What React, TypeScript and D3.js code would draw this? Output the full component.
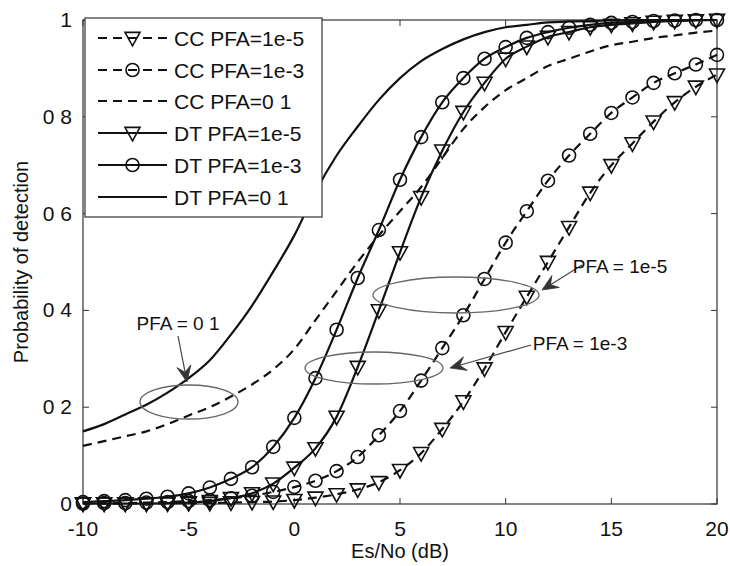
import React from "react";
import * as d3 from "d3";

const snr = d3.range(-10, 21);
const ccPfa1e5 = [0.001, 0.001, 0.001, 0.001, 0.001, 0.002, 0.002, 0.003, 0.004, 0.005, 0.008, 0.013, 0.02, 0.03, 0.045, 0.07, 0.105, 0.155, 0.212, 0.28, 0.355, 0.428, 0.5, 0.572, 0.643, 0.7, 0.745, 0.79, 0.83, 0.862, 0.887];
const ccPfa1e3 = [0.001, 0.002, 0.002, 0.003, 0.004, 0.006, 0.008, 0.012, 0.017, 0.025, 0.035, 0.048, 0.068, 0.097, 0.142, 0.192, 0.255, 0.322, 0.39, 0.465, 0.54, 0.605, 0.668, 0.72, 0.765, 0.808, 0.84, 0.87, 0.89, 0.908, 0.928];
const ccPfa01 = [0.12, 0.13, 0.14, 0.15, 0.165, 0.183, 0.2, 0.222, 0.247, 0.278, 0.32, 0.38, 0.44, 0.5, 0.555, 0.605, 0.655, 0.715, 0.775, 0.82, 0.855, 0.88, 0.905, 0.92, 0.935, 0.948, 0.955, 0.963, 0.968, 0.974, 0.978];
const dtPfa1e5 = [0.001, 0.001, 0.001, 0.001, 0.002, 0.003, 0.006, 0.012, 0.022, 0.042, 0.075, 0.115, 0.18, 0.283, 0.4, 0.52, 0.634, 0.73, 0.81, 0.87, 0.92, 0.945, 0.965, 0.975, 0.985, 0.99, 0.993, 0.996, 0.998, 0.999, 1.0];
const dtPfa1e3 = [0.004, 0.006, 0.008, 0.011, 0.015, 0.022, 0.034, 0.052, 0.076, 0.118, 0.178, 0.26, 0.36, 0.467, 0.566, 0.67, 0.758, 0.83, 0.88, 0.92, 0.944, 0.963, 0.975, 0.984, 0.99, 0.994, 0.996, 0.998, 0.999, 1.0, 1.0];
const dtPfa01 = [0.15, 0.165, 0.185, 0.205, 0.23, 0.26, 0.297, 0.35, 0.41, 0.48, 0.555, 0.645, 0.72, 0.78, 0.835, 0.88, 0.915, 0.94, 0.96, 0.975, 0.985, 0.99, 0.995, 0.997, 0.998, 0.999, 1.0, 1.0, 1.0, 1.0, 1.0];

const seriesNames = ["CC PFA=1e-5", "CC PFA=1e-3", "CC PFA=0 1", "DT PFA=1e-5", "DT PFA=1e-3", "DT PFA=0 1"];
const seriesValues = [ccPfa1e5, ccPfa1e3, ccPfa01, dtPfa1e5, dtPfa1e3, dtPfa01];
const seriesDashed = [true, true, true, false, false, false];
const seriesMarker = ["tri", "circ", "none", "tri", "circ", "none"];

const xTicks = [-10, -5, 0, 5, 10, 15, 20];
const yTicks = [0, 0.2, 0.4, 0.6, 0.8, 1];
const yTickLabels = ["0", "0 2", "0 4", "0 6", "0 8", "1"];

const annotations = [
  { text: "PFA = 0 1", tx: 178, ty: 330, x1: 178, y1: 336, x2: 187, y2: 382 },
  { text: "PFA = 1e-5", tx: 620, ty: 273, x1: 582, y1: 265, x2: 542, y2: 290 },
  { text: "PFA = 1e-3", tx: 580, ty: 350, x1: 531, y1: 345, x2: 450, y2: 368 },
];
const ellipses = [
  { cx: 189, cy: 402, rx: 49, ry: 17 },
  { cx: 374, cy: 368, rx: 69, ry: 16 },
  { cx: 456, cy: 295, rx: 83, ry: 18 },
];

const FONT = "'Liberation Sans', Arial, sans-serif";

function Marker({ type, x, y }: { type: string; x: number; y: number }) {
  if (type === "circ") {
    return <circle cx={x} cy={y} r={6.5} fill="none" stroke="#111" strokeWidth={1.6} />;
  }
  if (type === "tri") {
    const s = 7.5;
    const pts = `${x - s},${y - s * 0.75} ${x + s},${y - s * 0.75} ${x},${y + s * 1.05}`;
    return <polygon points={pts} fill="none" stroke="#111" strokeWidth={1.6} strokeLinejoin="miter" />;
  }
  return null;
}

function Arrow({ x1, y1, x2, y2 }: { x1: number; y1: number; x2: number; y2: number }) {
  const dx = x2 - x1, dy = y2 - y1;
  const L = Math.hypot(dx, dy);
  const ux = dx / L, uy = dy / L;
  const nx = -uy, ny = ux;
  const hl = 16, hw = 7, inner = 10;
  const p = [
    [x2, y2],
    [x2 - ux * hl + nx * hw, y2 - uy * hl + ny * hw],
    [x2 - ux * inner, y2 - uy * inner],
    [x2 - ux * hl - nx * hw, y2 - uy * hl - ny * hw],
  ];
  return (
    <g>
      <line x1={x1} y1={y1} x2={x2 - ux * inner} y2={y2 - uy * inner} stroke="#444" strokeWidth={1.2} />
      <polygon points={p.map((q) => q.join(",")).join(" ")} fill="#333" stroke="#333" strokeWidth={0.8} />
    </g>
  );
}

export default function App() {
  const width = 730, height = 566;
  const left = 83, right = 717, top = 20, bottom = 504;
  const x = d3.scaleLinear().domain([-10, 20]).range([left, right]);
  const y = d3.scaleLinear().domain([0, 1]).range([bottom, top]);
  const line = d3
    .line<number>()
    .x((_, i) => x(snr[i]))
    .y((v) => y(v))
    .curve(d3.curveMonotoneX);

  const legendX1 = 98, legendX2 = 167;
  const legendYs = [38, 70, 101, 133, 165, 197];

  return (
    <svg width={width} height={height} style={{ position: "absolute", left: 0, top: 0, background: "#fff" }} fontFamily={FONT}>
      <rect x={0} y={0} width={width} height={height} fill="#fff" />
      <defs>
        <clipPath id="plotclip">
          <rect x={left - 10} y={top - 10} width={right - left + 20} height={bottom - top + 20} />
        </clipPath>
      </defs>

      {/* axes box */}
      <rect x={left} y={top} width={right - left} height={bottom - top} fill="none" stroke="#333" strokeWidth={1.2} />
      {xTicks.map((t) => (
        <g key={"xt" + t}>
          <line x1={x(t)} x2={x(t)} y1={bottom} y2={bottom - 6} stroke="#333" strokeWidth={1} />
          <line x1={x(t)} x2={x(t)} y1={top} y2={top + 6} stroke="#333" strokeWidth={1} />
          <text x={x(t)} y={536} textAnchor="middle" fontSize={21} fill="#111">
            {String(t).replace("-", "-")}
          </text>
        </g>
      ))}
      {yTicks.map((t, i) => (
        <g key={"yt" + t}>
          <line x1={left} x2={left + 6} y1={y(t)} y2={y(t)} stroke="#333" strokeWidth={1} />
          <line x1={right} x2={right - 6} y1={y(t)} y2={y(t)} stroke="#333" strokeWidth={1} />
          <text x={72} y={y(t) + 7} textAnchor="end" fontSize={21} fill="#111">
            {yTickLabels[i]}
          </text>
        </g>
      ))}
      <text x={(left + right) / 2} y={558} textAnchor="middle" fontSize={20} fill="#111">
        Es/No (dB)
      </text>
      <text transform={`translate(28, ${(top + bottom) / 2}) rotate(-90)`} textAnchor="middle" fontSize={20} fill="#111">
        Probability of detection
      </text>

      {/* series */}
      <g clipPath="url(#plotclip)">
        {seriesValues.map((vals, si) => (
          <g key={"s" + si}>
            <path d={line(vals) || ""} fill="none" stroke="#111" strokeWidth={2.2} strokeDasharray={seriesDashed[si] ? "9,6" : undefined} />
            {seriesMarker[si] !== "none" &&
              vals.map((v, i) => <Marker key={i} type={seriesMarker[si]} x={x(snr[i])} y={y(v)} />)}
          </g>
        ))}
      </g>

      {/* ellipses and annotations */}
      {ellipses.map((e, i) => (
        <ellipse key={"e" + i} cx={e.cx} cy={e.cy} rx={e.rx} ry={e.ry} fill="none" stroke="#666" strokeWidth={1.3} />
      ))}
      {annotations.map((a, i) => (
        <g key={"a" + i}>
          <Arrow x1={a.x1} y1={a.y1} x2={a.x2} y2={a.y2} />
          <text x={a.tx} y={a.ty} textAnchor="middle" fontSize={19} fill="#111">
            {a.text}
          </text>
        </g>
      ))}

      {/* legend */}
      <rect x={85} y={18} width={237} height={199} fill="#fff" stroke="#333" strokeWidth={1.2} />
      {seriesNames.map((name, i) => {
        const ly = legendYs[i];
        return (
          <g key={"l" + i}>
            <line x1={legendX1} x2={legendX2} y1={ly} y2={ly} stroke="#111" strokeWidth={2.2} strokeDasharray={seriesDashed[i] ? "9,6" : undefined} />
            <Marker type={seriesMarker[i]} x={(legendX1 + legendX2) / 2} y={ly} />
            <text x={174} y={ly + 8} fontSize={21} fill="#111">
              {name}
            </text>
          </g>
        );
      })}
    </svg>
  );
}
